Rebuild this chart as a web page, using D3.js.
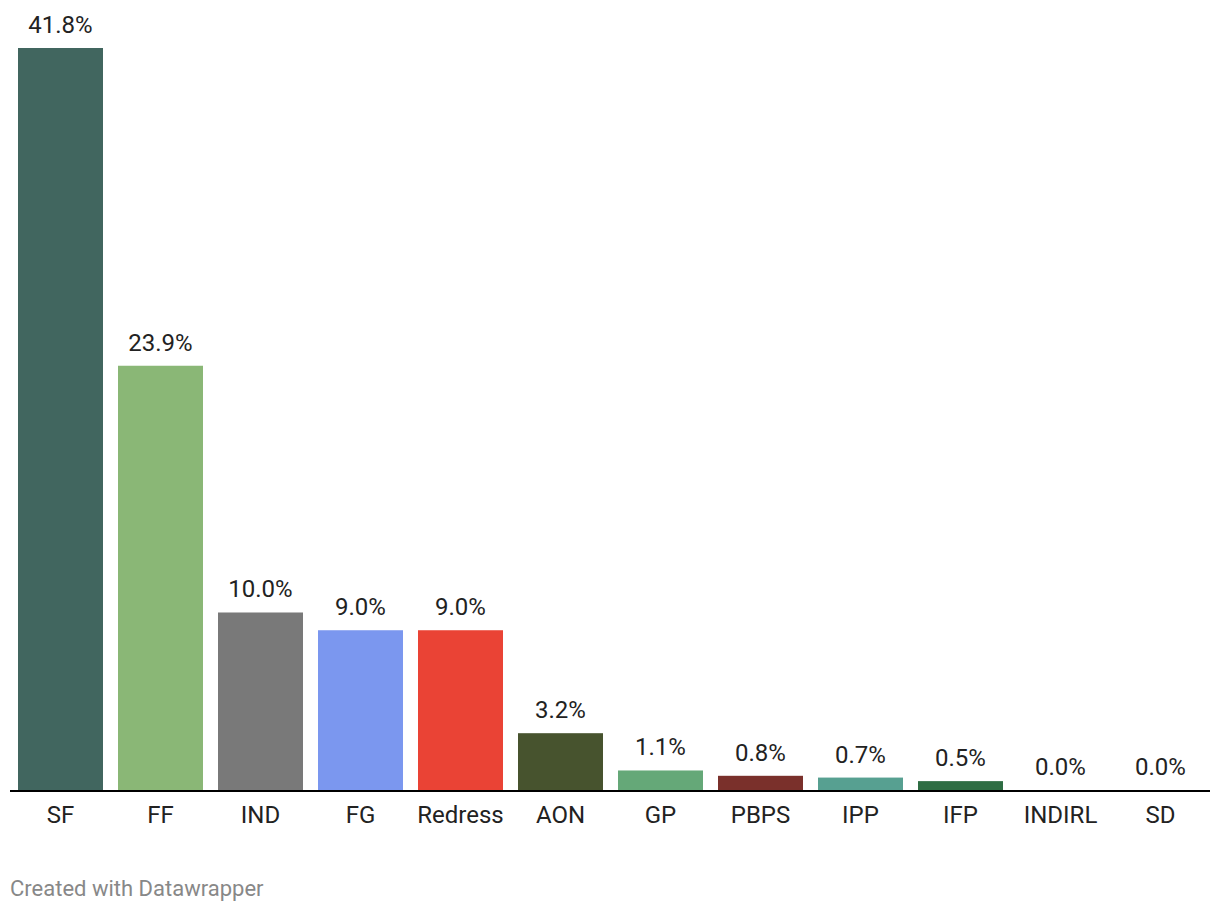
<!DOCTYPE html>
<html><head><meta charset="utf-8">
<script src="https://cdn.jsdelivr.net/npm/d3@7"></script>
<style>
body{margin:0;background:#fff;}
svg text{font-family:Roboto,"Noto Sans",sans-serif;}
</style></head>
<body>
<svg id="chart" width="1220" height="912"></svg>
<script>
const categories = ["SF","FF","IND","FG","Redress","AON","GP","PBPS","IPP","IFP","INDIRL","SD"];
const values = [41.8,23.9,10.0,9.0,9.0,3.2,1.1,0.8,0.7,0.5,0.0,0.0];
const colors = ["#41665f","#8ab776","#797979","#7b97ef","#ea4335","#47532e","#65a878","#7a302b","#57a091","#2e6d43","#999","#999"];

const svg = d3.select("#chart");
const x = d3.scaleBand().domain(categories).range([10.5,1210.5]).paddingInner(0.15).paddingOuter(0.075);
const y = d3.scaleLinear().domain([0,41.8]).range([790,48]);

svg.selectAll("rect.bar").data(categories).join("rect")
  .attr("class","bar")
  .attr("x",d=>x(d)).attr("width",x.bandwidth())
  .attr("y",(d,i)=>y(values[i])).attr("height",(d,i)=>y(0)-y(values[i]))
  .attr("fill",(d,i)=>colors[i]);

svg.selectAll("text.val").data(categories).join("text")
  .attr("class","val")
  .attr("x",d=>x(d)+x.bandwidth()/2)
  .attr("y",(d,i)=>y(values[i])-15)
  .attr("text-anchor","middle").attr("font-size",24).attr("fill","#222")
  .text((d,i)=>values[i].toFixed(1)+"%");

const axis = d3.axisBottom(x).tickSize(0).tickPadding(15);
const g = svg.append("g").attr("transform","translate(0,791)").call(axis);
g.select(".domain").remove();
g.selectAll("text").attr("font-size",24).attr("fill","#222").attr("font-family","Roboto");
svg.append("line").attr("x1",10).attr("x2",1210).attr("y1",791).attr("y2",791).attr("stroke","#000").attr("stroke-width",2);

svg.append("text").attr("x",10).attr("y",896).attr("font-size",22).attr("fill","#888").text("Created with Datawrapper");
</script>
</body></html>
